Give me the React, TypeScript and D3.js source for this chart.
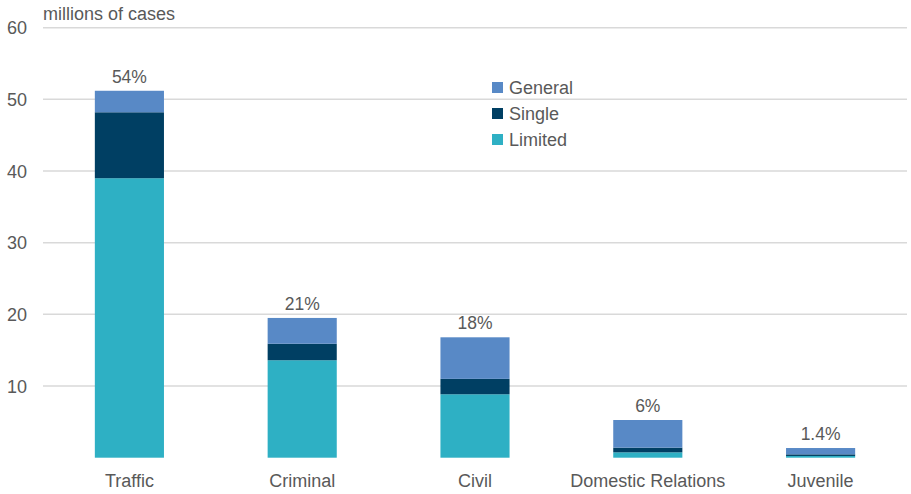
import React from "react";
import * as d3 from "d3";

const categories = ["Traffic", "Criminal", "Civil", "Domestic Relations", "Juvenile"];
const limited = [39.0, 13.6, 8.85, 0.75, 0.24];
const single = [9.2, 2.3, 2.15, 0.65, 0.23];
const general = [3.0, 3.6, 5.8, 3.86, 0.88];
const shares = ["54%", "21%", "18%", "6%", "1.4%"];
const yTicks = [10, 20, 30, 40, 50, 60];
const seriesNames = ["General", "Single", "Limited"];
const colors: Record<string, string> = { General: "#5889C6", Single: "#003F63", Limited: "#2EB0C4" };

export default function App() {
  const W = 911, H = 494;
  const left = 43, right = 907, top = 27.7, bottom = 457.7;
  const x = d3.scaleBand().domain(categories).range([left, right]).paddingInner(0.6).paddingOuter(0.3);
  const y = d3.scaleLinear().domain([0, 60]).range([bottom, top]);
  const rows = categories.map((c, i) => ({ cat: c, Limited: limited[i], Single: single[i], General: general[i] }));
  const stack = d3.stack<any>().keys(["Limited", "Single", "General"])(rows);
  const font = "'Liberation Sans', Arial, sans-serif";
  const txt = "#595959";
  return (
    <svg width={W} height={H} style={{ position: "absolute", left: 0, top: 0 }} fontFamily={font}>
      {yTicks.map((t) => (
        <g key={t}>
          <line x1={left} x2={right} y1={y(t)} y2={y(t)} stroke="#d9d9d9" strokeWidth={1.5} />
          <text x={27} y={y(t) + 6.5} textAnchor="end" fontSize={18} fill={txt}>{t}</text>
        </g>
      ))}
      <text x={43} y={20} fontSize={18} fill={txt}>millions of cases</text>
      {stack.map((s) => (
        <g key={s.key} fill={colors[s.key]}>
          {s.map((d, i) => (
            <rect key={i} x={x(categories[i])} width={x.bandwidth()} y={y(d[1])} height={y(d[0]) - y(d[1])} />
          ))}
        </g>
      ))}
      {categories.map((c, i) => {
        const total = limited[i] + single[i] + general[i];
        return (
          <g key={c}>
            <text x={x(c)! + x.bandwidth() / 2} y={y(total) - 8} textAnchor="middle" fontSize={17.5} fill={txt}>{shares[i]}</text>
            <text x={x(c)! + x.bandwidth() / 2} y={486.5} textAnchor="middle" fontSize={18} fill={txt}>{c}</text>
          </g>
        );
      })}
      {seriesNames.map((n, i) => (
        <g key={n} transform={`translate(492, ${82 + i * 26})`}>
          <rect width={11} height={11} fill={colors[n]} />
          <text x={17} y={12} fontSize={18} fill={txt}>{n}</text>
        </g>
      ))}
    </svg>
  );
}
